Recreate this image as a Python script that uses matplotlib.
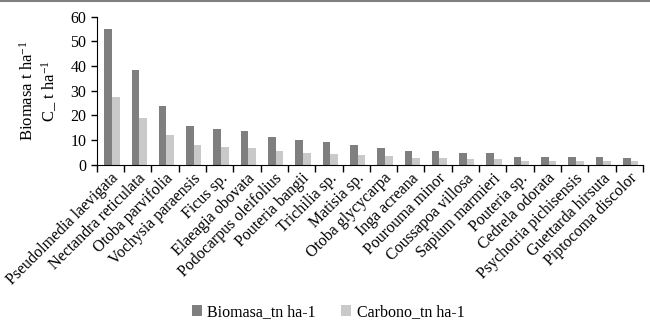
import matplotlib
matplotlib.use("Agg")
import matplotlib.pyplot as plt
import numpy as np
from matplotlib.lines import Line2D

plt.rcParams.update({
    "font.family": "Liberation Serif",
    "font.size": 10,
    "mathtext.fontset": "custom",
    "mathtext.rm": "Liberation Serif",
    "mathtext.it": "Liberation Serif:italic",
})

species = [
    "Pseudolmedia laevigata", "Nectandra reticulata", "Otoba parvifolia",
    "Vochysia paraensis", "Ficus sp.", "Elaeagia obovata",
    "Podocarpus oleifolius", "Pouteria bangii", "Trichilia sp.",
    "Matisia sp.", "Otoba glycycarpa", "Inga acreana", "Pourouma minor",
    "Coussapoa villosa", "Sapium marmieri", "Pouteria sp.",
    "Cedrela odorata", "Psychotria pichisensis", "Guettarda hirsuta",
    "Piptocoma discolor",
]
biomasa = [55.0, 38.2, 23.8, 15.9, 14.5, 13.6, 11.2, 10.0, 9.2, 8.2,
           6.9, 5.7, 5.7, 4.7, 4.7, 3.2, 3.1, 3.1, 3.1, 2.8]
carbono = [27.5, 19.1, 11.9, 7.9, 7.3, 6.7, 5.5, 4.8, 4.4, 4.0,
           3.5, 2.8, 2.8, 2.4, 2.4, 1.6, 1.6, 1.6, 1.6, 1.4]

fig = plt.figure(figsize=(6.5, 3.33), dpi=100)
ax = fig.add_axes([0.149, 0.505, 0.840, 0.445])

x = np.arange(len(species))
w = 0.28
ax.bar(x - w / 2 + 0.05, biomasa, w, color="#7f7f7f", label="Biomasa_tn ha-1")
ax.bar(x + w / 2 + 0.05, carbono, w, color="#c9c9c9", label="Carbono_tn ha-1")

ax.set_xlim(-0.5, len(species) - 0.5)
ax.set_ylim(0, 60)
ax.set_yticks(range(0, 61, 10))
ax.tick_params(axis="y", labelsize=11.5, length=4, width=1)

# ticks between categories, labels at category centres
ax.set_xticks(np.arange(len(species) + 1) - 0.5)
ax.set_xticklabels([])
ax.set_xticks(x, minor=True)
ax.set_xticklabels(species, minor=True, rotation=45, ha="right",
                   rotation_mode="anchor", fontsize=11.5)
ax.tick_params(axis="x", which="major", length=5, width=1)
ax.tick_params(axis="x", which="minor", length=0, pad=4)

for s in ["top", "right"]:
    ax.spines[s].set_visible(False)
ax.spines["left"].set_color("black")
ax.spines["bottom"].set_color("black")

ax.set_ylabel("Biomasa t ha$^{-1}$\nC_ t ha$^{-1}$", fontsize=12, labelpad=8)

ax.legend(loc="center", bbox_to_anchor=(0.505, 0.0625), bbox_transform=fig.transFigure,
          ncol=2, frameon=False, fontsize=11.5, handlelength=0.6, handleheight=0.6,
          handletextpad=0.35, columnspacing=1.6)

fig.add_artist(Line2D([0, 1], [0.998, 0.998], transform=fig.transFigure,
                      color="#808080", lw=1.5))

fig.savefig("out.png", dpi=100)
